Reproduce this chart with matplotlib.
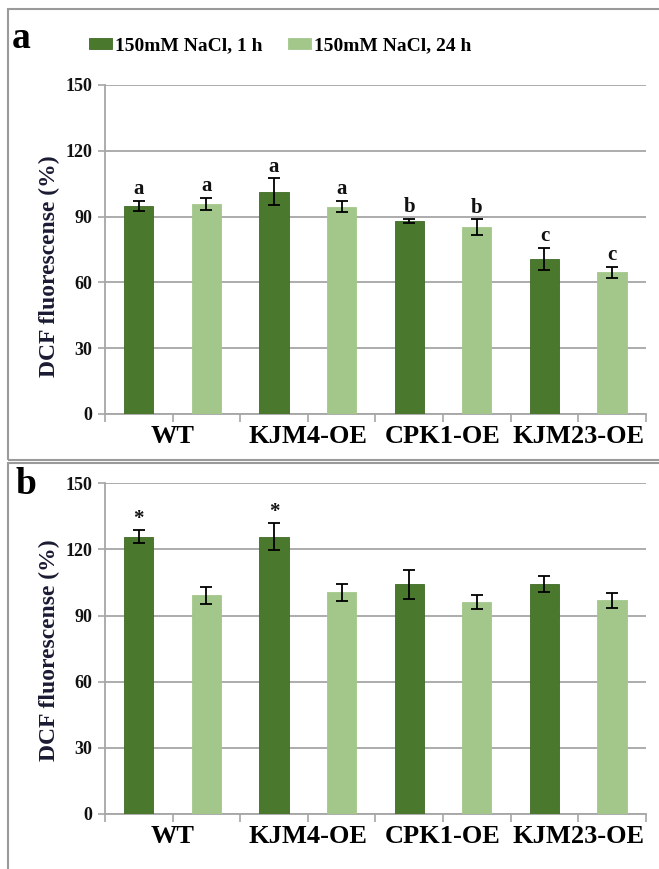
import numpy as np
import matplotlib.pyplot as plt
from matplotlib.patches import Rectangle

lines = ['WT', 'KJM4-OE', 'CPK1-OE', 'KJM23-OE']
series = ['150mM NaCl, 1 h', '150mM NaCl, 24 h']

# panel a: 1 h / 24 h
a_1h = [95.0, 101.4, 88.1, 70.7]
a_1h_err = [2.3, 6.0, 1.0, 4.9]
a_24h = [95.8, 94.5, 85.1, 64.6]
a_24h_err = [2.6, 2.6, 3.6, 2.6]
a_1h_marks = ['a', 'a', 'b', 'c']
a_24h_marks = ['a', 'a', 'b', 'c']

# panel b
b_1h = [125.8, 125.8, 104.3, 104.3]
b_1h_err = [2.9, 6.0, 6.6, 3.8]
b_24h = [99.3, 100.5, 96.1, 96.9]
b_24h_err = [3.9, 3.8, 3.2, 3.5]
b_1h_marks = ['*', '*', '', '']
b_24h_marks = ['', '', '', '']

yticks = [0, 30, 60, 90, 120, 150]

dark = '#4a792d'
light = '#a3c78b'
grid_c = '#a6a6a6'
txt_c = '#111111'

plt.rcParams['font.family'] = ['Liberation Serif', 'DejaVu Serif']
plt.rcParams['font.weight'] = 'bold'

fig = plt.figure(figsize=(6.59, 8.69), dpi=100)


def panel(ax, v1, e1, v2, e2, m1, m2, label_y):
    n = len(lines)
    x1 = np.arange(n) * 2
    x2 = x1 + 1
    w = 0.43
    b1 = ax.bar(x1, v1, w, color=dark, edgecolor='#3f6a26', linewidth=0.6, zorder=3)
    b2 = ax.bar(x2, v2, w, color=light, edgecolor=light, linewidth=0.6, zorder=3)
    ax.errorbar(x1, v1, yerr=e1, fmt='none', ecolor='black', elinewidth=1.3,
                capsize=4, capthick=1.3, zorder=4)
    ax.errorbar(x2, v2, yerr=e2, fmt='none', ecolor='black', elinewidth=1.3,
                capsize=4, capthick=1.3, zorder=4)
    for xs, vs, es, ms in [(x1, v1, e1, m1), (x2, v2, e2, m2)]:
        for x, v, e, m in zip(xs, vs, es, ms):
            if m:
                ax.text(x, v + e + 0.8, m, ha='center', va='bottom',
                        fontsize=15, fontweight='bold', color=txt_c, zorder=5)
    ax.set_xlim(-0.5, 2 * n - 0.5)
    ax.set_ylim(0, 150)
    ax.set_yticks(yticks)
    ax.set_yticklabels([str(t) for t in yticks], fontsize=13, fontweight='bold', color=txt_c)
    ax.yaxis.grid(True, color=grid_c, linewidth=1.3, zorder=0)
    ax.set_axisbelow(True)
    ax.set_xticks(np.arange(-0.5, 2 * n, 1))
    ax.set_xticklabels([])
    ax.tick_params(axis='x', length=6, color=grid_c, width=1.2)
    ax.tick_params(axis='y', length=5, color=grid_c, width=1.2, pad=4)
    for s in ['top', 'right']:
        ax.spines[s].set_visible(False)
    for s in ['left', 'bottom']:
        ax.spines[s].set_color(grid_c)
        ax.spines[s].set_linewidth(1.3)
    for i, name in enumerate(lines):
        ax.text(2 * i + 0.5, -5, name, ha='center', va='top', fontsize=19,
                fontweight='bold', color='black', transform=ax.transData)
    ax.set_ylabel('DCF fluorescense (%)', fontsize=17, fontweight='bold',
                  color='#1a1a33')
    ax.yaxis.set_label_coords(-0.084, label_y)
    return b1, b2


ax1 = fig.add_axes([0.1593, 0.5236, 0.8207, 0.3786])
h1, h2 = panel(ax1, a_1h, a_1h_err, a_24h, a_24h_err, a_1h_marks, a_24h_marks, 0.45)

ax2 = fig.add_axes([0.1593, 0.0633, 0.8207, 0.3805])
panel(ax2, b_1h, b_1h_err, b_24h, b_24h_err, b_1h_marks, b_24h_marks, 0.495)

fig.legend([h1, h2], series, loc='center', bbox_to_anchor=(0.425, 1 - 46 / 869),
           ncol=2, frameon=False, prop={'size': 14, 'weight': 'bold'},
           handlelength=1.2, handleheight=0.55, handletextpad=0.15, columnspacing=1.3)

# panel frames
fig.patches.append(Rectangle((8 / 659, 1 - 460 / 869), 1.1, 451 / 869,
                             transform=fig.transFigure, fill=False,
                             edgecolor='#9a9a9a', linewidth=1.5))
fig.patches.append(Rectangle((8 / 659, -0.01), 1.1, 1 - 463 / 869 + 0.01,
                             transform=fig.transFigure, fill=False,
                             edgecolor='#9a9a9a', linewidth=1.5))

fig.text(12 / 659, 1 - 38 / 869, 'a', fontsize=27, fontweight='bold', va='center', ha='left')
fig.text(15 / 659, 1 - 485 / 869, 'b', fontsize=27, fontweight='bold', va='center', ha='left')

fig.savefig('out.png', dpi=100)
